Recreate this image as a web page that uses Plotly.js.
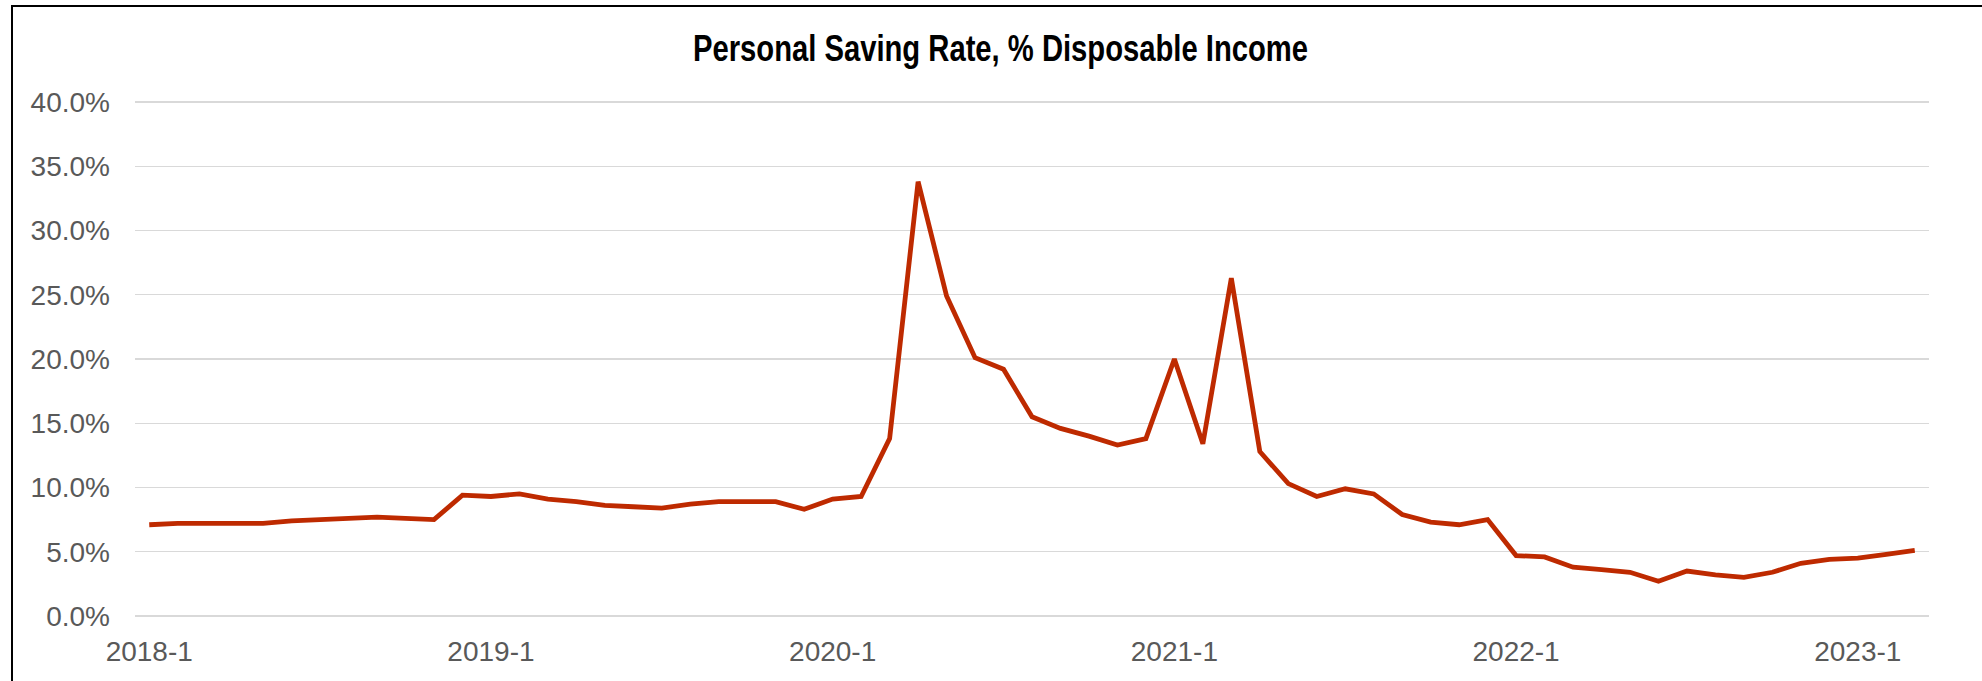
<!DOCTYPE html>
<html>
<head>
<meta charset="utf-8">
<script src="https://cdn.plot.ly/plotly-3.0.1.min.js"></script>
<style>
  html, body { margin: 0; padding: 0; background: #ffffff; }
  #wrap { position: relative; width: 1982px; height: 681px; overflow: hidden; }
  #chart { position: absolute; left: 0; top: 0; width: 1982px; height: 681px; }
  #frame { position: absolute; left: 11px; top: 5px; width: 2000px; height: 700px;
           border-left: 2px solid #000; border-top: 2px solid #000; pointer-events: none; }
</style>
</head>
<body>
<div id="wrap">
  <div id="chart"></div>
  <div id="frame"></div>
</div>
<script>
// Monthly categories 2018-1 .. 2023-3
const months = [
  "2018-1","2018-2","2018-3","2018-4","2018-5","2018-6","2018-7","2018-8","2018-9","2018-10","2018-11","2018-12",
  "2019-1","2019-2","2019-3","2019-4","2019-5","2019-6","2019-7","2019-8","2019-9","2019-10","2019-11","2019-12",
  "2020-1","2020-2","2020-3","2020-4","2020-5","2020-6","2020-7","2020-8","2020-9","2020-10","2020-11","2020-12",
  "2021-1","2021-2","2021-3","2021-4","2021-5","2021-6","2021-7","2021-8","2021-9","2021-10","2021-11","2021-12",
  "2022-1","2022-2","2022-3","2022-4","2022-5","2022-6","2022-7","2022-8","2022-9","2022-10","2022-11","2022-12",
  "2023-1","2023-2","2023-3"
];

// Personal saving rate, % of disposable income
const savingRate = [
  7.1, 7.2, 7.2, 7.2, 7.2, 7.4, 7.5, 7.6, 7.7, 7.6, 7.5, 9.4,
  9.3, 9.5, 9.1, 8.9, 8.6, 8.5, 8.4, 8.7, 8.9, 8.9, 8.9, 8.3,
  9.1, 9.3, 13.8, 33.8, 24.9, 20.1, 19.2, 15.5, 14.6, 14.0, 13.3, 13.8,
  20.0, 13.4, 26.3, 12.8, 10.3, 9.3, 9.9, 9.5, 7.9, 7.3, 7.1, 7.5,
  4.7, 4.6, 3.8, 3.6, 3.4, 2.7, 3.5, 3.2, 3.0, 3.4, 4.1, 4.4,
  4.5, 4.8, 5.1
];

const tickLabels = ["2018-1","2019-1","2020-1","2021-1","2022-1","2023-1"];
const yTicks = [0, 5, 10, 15, 20, 25, 30, 35, 40];
const titleText = "Personal Saving Rate, % Disposable Income";

const trace = {
  x: months,
  y: savingRate,
  type: "scatter",
  mode: "lines",
  line: { color: "#BE2A00", width: 4.8, shape: "linear" },
  hoverinfo: "x+y",
  showlegend: false
};

const tickFont = { family: "Liberation Sans, Arial, sans-serif", size: 28, color: "#595959" };

const layout = {
  width: 1982,
  height: 681,
  paper_bgcolor: "#ffffff",
  plot_bgcolor: "#ffffff",
  margin: { l: 135, r: 53, t: 101, b: 64, pad: 0 },
  title: {
    text: titleText,
    font: { family: "Liberation Sans, Arial, sans-serif", size: 36, color: "#000000", weight: 700 },
    xref: "container", x: 0.5048, xanchor: "center",
    yref: "container", y: 0.929, yanchor: "middle"
  },
  xaxis: {
    type: "category",
    categoryorder: "array",
    categoryarray: months,
    range: [-0.5, months.length - 0.5],
    tickmode: "array",
    tickvals: tickLabels,
    ticktext: tickLabels,
    ticks: "",
    showgrid: false,
    showline: false,
    zeroline: false,
    tickfont: tickFont,
    ticklabelstandoff: 15,
    fixedrange: true
  },
  yaxis: {
    range: [-0.08, 40.08],
    tickmode: "array",
    tickvals: yTicks,
    ticktext: yTicks.map(v => v.toFixed(1) + "%"),
    ticks: "",
    showgrid: true,
    gridcolor: "#D9D9D9",
    gridwidth: 1.4,
    showline: false,
    zeroline: false,
    tickfont: tickFont,
    ticklabelstandoff: 24,
    fixedrange: true
  }
};

Plotly.newPlot("chart", [trace], layout, { displayModeBar: false, staticPlot: true }).then(function (gd) {
  // condense the title to the reference's narrow heading width
  const t = gd.querySelector(".gtitle");
  if (t) {
    t.setAttribute("textLength", "615");
    t.setAttribute("lengthAdjust", "spacingAndGlyphs");
  }
});
</script>
</body>
</html>
